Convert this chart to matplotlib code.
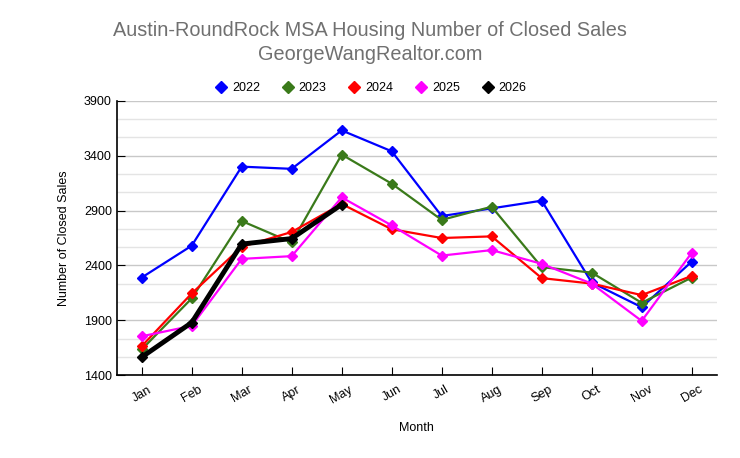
import numpy as np
import matplotlib.pyplot as plt

plt.rcParams['font.family'] = ['Liberation Sans', 'DejaVu Sans']

months = ['Jan', 'Feb', 'Mar', 'Apr', 'May', 'Jun', 'Jul', 'Aug', 'Sep', 'Oct', 'Nov', 'Dec']

# closed sales per month
sales_2022 = [2290, 2580, 3300, 3280, 3630, 3440, 2850, 2920, 2990, 2245, 2020, 2435]
sales_2023 = [1635, 2100, 2805, 2610, 3410, 3145, 2815, 2935, 2385, 2335, 2060, 2290]
sales_2024 = [1665, 2145, 2570, 2705, 2960, 2730, 2650, 2665, 2285, 2235, 2130, 2305]
sales_2025 = [1755, 1850, 2460, 2485, 3020, 2765, 2490, 2540, 2415, 2235, 1895, 2515]
sales_2026 = [1565, 1880, 2595, 2645, 2955]

series = [
    ('2022', sales_2022, '#0000ff', 1.6),
    ('2023', sales_2023, '#3a7a1a', 1.6),
    ('2024', sales_2024, '#ff0000', 1.6),
    ('2025', sales_2025, '#ff00ff', 1.6),
    ('2026', sales_2026, '#000000', 3.5),
]

fig = plt.figure(figsize=(7.4, 4.58), dpi=100)
ax = fig.add_axes([0.1577, 0.1806, 0.8108, 0.5994])

x = np.arange(len(months))
for name, vals, color, lw in series:
    ax.plot(x[:len(vals)], vals, color=color, lw=lw, marker='D', markersize=5.5,
            label=name, zorder=3)

ax.set_xlim(-0.5, 11.5)
ax.set_ylim(1400, 3900)
ax.set_yticks(np.arange(1400, 3901, 500))
ax.set_yticks(np.arange(1400, 3900, 500 / 3), minor=True)
ax.grid(which='major', axis='y', color='#c8c8c8', lw=1)
ax.grid(which='minor', axis='y', color='#e4e4e4', lw=1)
ax.set_axisbelow(True)

ax.set_xticks(x)
ax.set_xticklabels(months, rotation=30)
ax.tick_params(axis='both', which='major', direction='in', length=6, labelsize=9, color='black')
ax.tick_params(axis='y', which='minor', length=0)
ax.tick_params(axis='x', pad=6)

for s in ['top', 'right']:
    ax.spines[s].set_visible(False)
for s in ['left', 'bottom']:
    ax.spines[s].set_color('black')
    ax.spines[s].set_linewidth(1.2)

ax.set_xlabel('Month', fontsize=9, labelpad=12)
ax.set_ylabel('Number of Closed Sales', fontsize=9, labelpad=10)

fig.text(0.5, 1 - 30 / 458, 'Austin-RoundRock MSA Housing Number of Closed Sales',
         ha='center', va='center', fontsize=14.3, color='#707070')
fig.text(0.5, 1 - 54 / 458, 'GeorgeWangRealtor.com',
         ha='center', va='center', fontsize=14.3, color='#707070')

handles = [plt.Line2D([], [], ls='none', marker='D', markersize=6, color=c) for _, _, c, _ in series]
fig.legend(handles, [n for n, _, _, _ in series], loc='center', bbox_to_anchor=(0.5, 1 - 88 / 458),
           ncol=5, frameon=False, fontsize=9, handletextpad=0.3, columnspacing=1.6,
           handlelength=1.2)

fig.savefig('out.png', dpi=100)
